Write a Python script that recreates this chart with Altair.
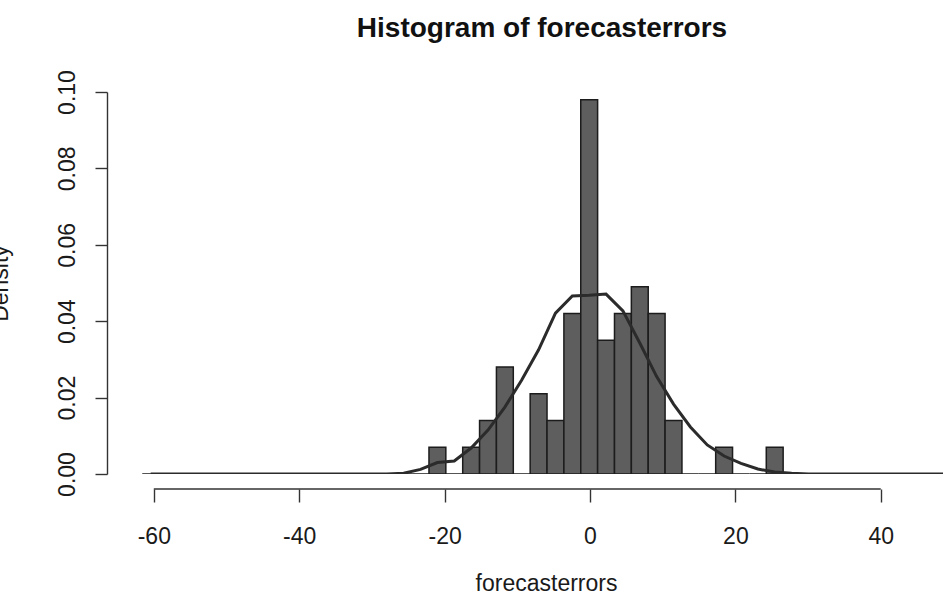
import altair as alt
import pandas as pd

# ---- data ----
bin_width = 2.32                 # histogram bin width (IQR/4 style breaks)
first_bar_edge = -22.15          # left edge of first non-empty bin
bins_before = 17                 # empty bins to the left (back to about -61.6)
bins_after = 11                  # empty bins to the right of the last bar
bar_density = [0.007, 0.0, 0.007, 0.014, 0.028, 0.0, 0.021, 0.014, 0.042, 0.098,
               0.035, 0.042, 0.049, 0.042, 0.014, 0.0, 0.0, 0.007, 0.0, 0.0, 0.007]

curve_start_bin = -3             # first bin (relative) where normal curve departs from zero
curve_density = [0.0, 0.0002, 0.0012, 0.0030, 0.0034, 0.0068, 0.0115, 0.0175,
                 0.0246, 0.0325, 0.0421, 0.0466, 0.0468, 0.0471, 0.0427, 0.0343,
                 0.0255, 0.0183, 0.0123, 0.0076, 0.0047, 0.0028, 0.0013, 0.0005,
                 0.0002, 0.0]

x_ticks = [-60, -40, -20, 0, 20, 40]
y_ticks = [0.0, 0.02, 0.04, 0.06, 0.08, 0.10]
x_domain = [-66.44, 48.56]
y_domain = [0.0, 0.10]

# ---- tables ----
ks = list(range(-bins_before, len(bar_density) + bins_after))
bars = pd.DataFrame({
    "left": [first_bar_edge + bin_width * k for k in ks],
    "right": [first_bar_edge + bin_width * (k + 1) for k in ks],
    "density": [bar_density[k] if 0 <= k < len(bar_density) else 0.0 for k in ks],
})
curve = pd.DataFrame({
    "mid": [first_bar_edge + bin_width * (k + 0.5) for k in ks[:-1]],
    "density": [curve_density[k - curve_start_bin]
                if 0 <= k - curve_start_bin < len(curve_density) else 0.0
                for k in ks[:-1]],
})
axis_line = pd.DataFrame({"lo": [min(x_ticks)], "hi": [max(x_ticks)]})

FONT = "Liberation Sans"
W, H = 836, 382

xscale = alt.Scale(domain=x_domain, nice=False, zero=False)
yscale = alt.Scale(domain=y_domain, nice=False, zero=False)

xaxis = alt.Axis(values=x_ticks, labelExpr="datum.value + ''", domain=False,
                 offset=15, tickSize=13, tickColor="#333333", tickWidth=1.4,
                 labelFont=FONT, labelFontSize=23, labelColor="#1a1a1a",
                 labelPadding=23, labelBaseline="top", grid=False,
                 title="forecasterrors", titleFont=FONT, titleFontSize=23,
                 titleFontWeight="normal", titleColor="#1a1a1a",
                 titleBaseline="alphabetic", titleAlign="center",
                 titleX=439, titleY=101)
yaxis = alt.Axis(values=y_ticks, format=".2f", domain=True, domainColor="#333333",
                 domainWidth=1.4, tickSize=12, tickColor="#333333", tickWidth=1.4,
                 labelFont=FONT, labelFontSize=23, labelColor="#1a1a1a",
                 labelAngle=270, labelAlign="center", labelBaseline="alphabetic",
                 labelPadding=21, grid=False,
                 title="Density", titleFont=FONT, titleFontSize=23,
                 titleFontWeight="normal", titleColor="#1a1a1a", titleAngle=270,
                 titleAlign="center", titleBaseline="alphabetic",
                 titleX=-100, titleY=191)

hist = alt.Chart(bars).mark_rect(
    fill="#5e5e5e", stroke="#1c1c1c", strokeWidth=1.5, clip=True
).encode(
    x=alt.X("left:Q", scale=xscale, axis=xaxis),
    x2="right:Q",
    y=alt.Y("density:Q", scale=yscale, axis=yaxis),
    y2=alt.datum(0),
)

line = alt.Chart(curve).mark_line(
    color="#2b2b2b", strokeWidth=3, clip=True
).encode(
    x=alt.X("mid:Q", scale=xscale),
    y=alt.Y("density:Q", scale=yscale),
)

xline = alt.Chart(axis_line).mark_rule(
    color="#333333", strokeWidth=1.4
).encode(
    x=alt.X("lo:Q", scale=xscale),
    x2="hi:Q",
    y=alt.value(H + 15),
)

chart = alt.layer(hist, line, xline).properties(
    width=W, height=H,
    title=alt.TitleParams("Histogram of forecasterrors", font=FONT, fontSize=28,
                          fontWeight="bold", color="#111111", anchor="middle",
                          baseline="alphabetic", offset=5, dx=17),
    autosize=alt.AutoSizeParams(type="none"),
    padding={"left": 107, "top": 92, "right": 0, "bottom": 130},
    background="white",
).configure_view(stroke=None)

chart.save("out.html", embed_options={"renderer": "svg", "actions": False})
